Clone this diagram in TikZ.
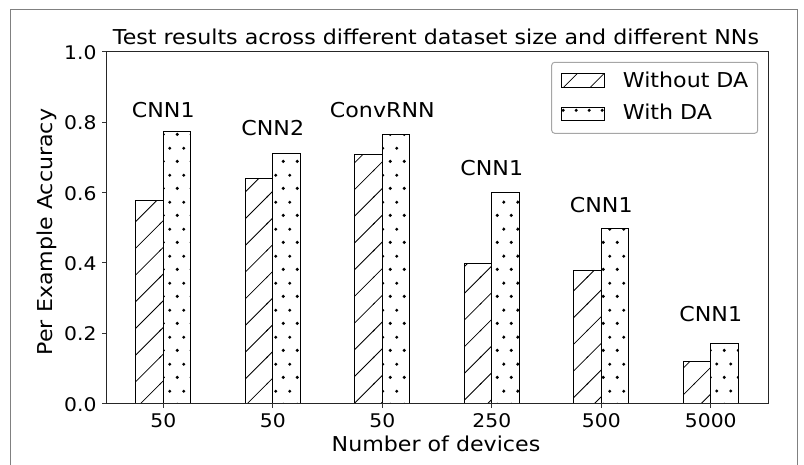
\documentclass[tikz,border=0pt]{standalone}
\usepackage{fontspec}
\setmainfont{DejaVu Sans}[FakeStretch=1.08]
\usetikzlibrary{patterns}

% hatch of the bars without data augmentation
\pgfdeclarepatternformonly{slashes}{\pgfqpoint{-1pt}{-1pt}}{\pgfqpoint{27.7pt}{27.7pt}}{\pgfqpoint{26.7pt}{26.7pt}}{
  \pgfsetlinewidth{0.8pt}
  \pgfpathmoveto{\pgfqpoint{-1pt}{-1pt}}
  \pgfpathlineto{\pgfqpoint{27.7pt}{27.7pt}}
  \pgfusepath{stroke}}
% dots of the bars with data augmentation
\pgfdeclarepatternformonly{dotrows}{\pgfqpoint{0pt}{0pt}}{\pgfqpoint{13.34pt}{26.68pt}}{\pgfqpoint{13.34pt}{26.68pt}}{
  \pgfpathcircle{\pgfqpoint{3.33pt}{6.67pt}}{1.7pt}
  \pgfpathcircle{\pgfqpoint{10pt}{20pt}}{1.7pt}
  \pgfusepath{fill}}

\begin{document}
\begin{tikzpicture}[x=1pt, y=1pt,
    lbl/.style={font=\fontsize{20.5}{24}\selectfont, inner sep=0pt},
    ticklbl/.style={font=\fontsize{18.8}{22}\selectfont, inner sep=0pt},
    nodabar/.style={draw=black, line width=0.9pt, pattern=slashes},
    dabar/.style={draw=black, line width=0.9pt, pattern=dotrows},
    axtick/.style={line width=0.8pt, black!80}]
  \useasboundingbox (0,0) rectangle (804,464);
  \draw[gray, line width=1pt] (10,-2) -- (10,454.5) -- (797,454.5) -- (797,-2);

  \node[lbl, anchor=base] (title) at (436,419.7)
    {Test results across different dataset size and different NNs};

  \begin{scope}[shift={(163.3,60.5)}, x=109.5pt, y=351.8pt]
    \coordinate (ll) at (-0.523,0);
    \coordinate (ur) at (5.53,1);
    % bars and network names
    \foreach \i/\a/\b/\net/\h in {0/0.576/0.772/CNN1/0.8135,
        1/0.640/0.712/CNN2/0.762, 2/0.709/0.766/ConvRNN/0.8135,
        3/0.398/0.599/CNN1/0.647, 4/0.379/0.497/CNN1/0.544,
        5/0.120/0.170/CNN1/0.2345} {
      \draw[nodabar] (\i-0.25,0) rectangle (\i,\a);
      \draw[dabar] (\i,0) rectangle (\i+0.25,\b);
      \node[lbl, anchor=base] (net\i) at (\i,\h) {\net};
    }
    \draw[line width=0.9pt, black!85] (ll) rectangle (ur);
    % x ticks
    \foreach \i/\n in {0/50, 1/50, 2/50, 3/250, 4/500, 5/5000} {
      \draw[axtick] (\i,0) -- ++(0,-4.5pt) coordinate (xt\i);
      \node[ticklbl, anchor=base] (xl\i) at ([yshift=-19.7pt]xt\i) {\n};
    }
    % y ticks
    \foreach \v/\k in {0.0/0, 0.2/1, 0.4/2, 0.6/3, 0.8/4, 1.0/5} {
      \draw[axtick] (-0.523,\v) -- ++(-4.5pt,0) coordinate (yt\k);
      \node[ticklbl, anchor=base east] (yl\k) at ([xshift=-4.8pt, yshift=-7.6pt]yt\k) {\v};
    }
  \end{scope}

  \node[lbl, anchor=base] (xlab) at (436,12.3) {Number of devices};
  \node[lbl, anchor=base, rotate=90] (ylab) at (53,232) {Per Example Accuracy};

  % legend
  \draw[black!35, line width=1pt, rounded corners=3pt, fill=white]
    (551.7,330.7) rectangle (757.7,401.7);
  \draw[nodabar] (561,376.7) rectangle (604.7,390.7);
  \draw[dabar] (561,343.3) rectangle (604.7,356.7);
  \node[lbl, anchor=base west] (lgnoda) at (622.7,376.7) {Without DA};
  \node[lbl, anchor=base west] (lgda) at (622.7,344) {With DA};
\end{tikzpicture}
\end{document}
